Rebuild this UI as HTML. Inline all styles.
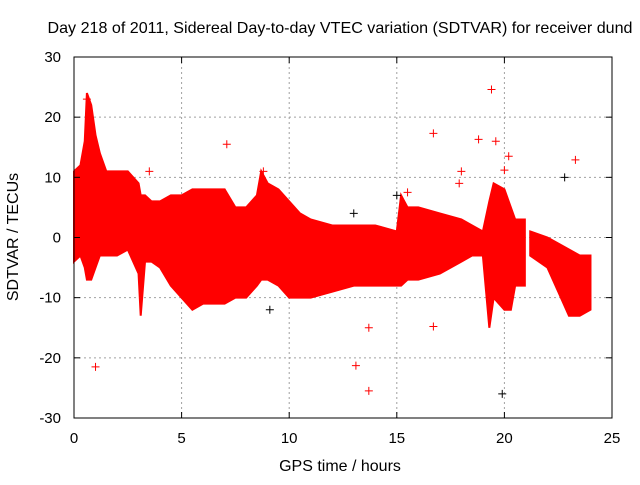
<!DOCTYPE html>
<html><head><meta charset="utf-8"><style>
body{margin:0;background:#fff}
svg text{font-family:"Liberation Sans",sans-serif;font-size:15px;fill:#000}
svg text.big{font-size:16px}
</style></head><body>
<svg width="640" height="480" xmlns="http://www.w3.org/2000/svg">
<rect width="640" height="480" fill="#fff"/>
<g id="grid"></g>
<g id="series"></g>
<g id="axes"></g>
<text class="big" x="340" y="33" text-anchor="middle" textLength="585" lengthAdjust="spacingAndGlyphs">Day 218 of 2011, Sidereal Day-to-day VTEC variation (SDTVAR) for receiver dund</text>
<text class="big" x="340" y="471" text-anchor="middle">GPS time / hours</text>
<text class="big" x="18" y="237" text-anchor="middle" transform="rotate(-90 18 237)">SDTVAR / TECUs</text>
</svg>
<script>
const times=[0,0.3,0.5,0.6,0.8,1.0,1.2,1.5,2.0,2.5,3.0,3.1,3.3,3.6,4.0,4.5,5.0,5.5,6.0,7.0,7.5,8.0,8.5,8.7,9.0,9.5,10.0,10.5,11.0,12,13,14,15,15.2,15.5,16,17,18,18.5,19,19.3,19.5,20,20.3,20.5,20.95,21.2,22,22.5,23,23.5,24];
const upper=[11,12,16,24,22,17,14,11,11,11,9,7,7,6,6,7,7,8,8,8,5,5,7,11,9,8,6,4,3,2,2,2,1,7,5,5,4,3,2,1,6,9,8,5,3,3,1,0,-1,-2,-3,-3];
const lower=[-4,-3,-5,-7,-7,-5,-3,-3,-3,-2,-6,-13,-4,-4,-5,-8,-10,-12,-11,-11,-10,-10,-8,-7,-7,-8,-10,-10,-10,-9,-8,-8,-8,-8,-7,-7,-6,-4,-3,-3,-15,-10,-12,-12,-8,-8,-3,-5,-9,-13,-13,-12];
const outT=[1.0,7.1,13.1,13.7,13.7,16.7,16.7,15.5,18.8,19.4,19.6,20.2,20.0,23.3,17.9,18.0,3.5,8.8,0.6];
const outV=[-21.5,15.5,-21.3,-25.5,-15,17.3,-14.8,7.5,16.3,24.6,16,13.5,11.2,12.9,9,11,11,11,23];
const blackT=[22.8,19.9,15.0,13.0,9.1];
const blackV=[10,-26,7,4,-12];
const xTicks=[0,5,10,15,20,25];
const yTicks=[-30,-20,-10,0,10,20,30];
const X0=74,X1=612,Y0=418,Y1=57;
const sx=t=>X0+(t-0)/(25-0)*(X1-X0);
const sy=v=>Y0-(v+30)/60*(Y0-Y1);
const NS="http://www.w3.org/2000/svg";
function mk(tag,attrs,parent){const e=document.createElementNS(NS,tag);for(const k in attrs)e.setAttribute(k,attrs[k]);parent.appendChild(e);return e;}
const grid=document.getElementById('grid'),axes=document.getElementById('axes'),ser=document.getElementById('series');
xTicks.forEach(t=>{
 if(t>0&&t<25){const l=mk('line',{x1:sx(t),x2:sx(t),y1:Y1,y2:Y0,stroke:'#a0a0a0','stroke-dasharray':'2,3'},grid);
 
 }
 mk('line',{x1:sx(t),x2:sx(t),y1:Y0,y2:Y0-6,stroke:'#000'},axes);
 mk('line',{x1:sx(t),x2:sx(t),y1:Y1,y2:Y1+6,stroke:'#000'},axes);
 const tx=mk('text',{x:sx(t),y:Y0+25,'text-anchor':'middle'},axes);tx.textContent=t;
 
 
});
yTicks.forEach(v=>{
 if(v>-30&&v<30){const l=mk('line',{x1:X0,x2:X1,y1:sy(v),y2:sy(v),stroke:'#a0a0a0','stroke-dasharray':'2,3'},grid);
 
 }
 mk('line',{x1:X0,x2:X0+6,y1:sy(v),y2:sy(v),stroke:'#000'},axes);
 mk('line',{x1:X1,x2:X1-6,y1:sy(v),y2:sy(v),stroke:'#000'},axes);
 const tx=mk('text',{x:X0-13,y:sy(v)+5,'text-anchor':'end'},axes);tx.textContent=v;
 
 
});
const fr=mk('rect',{x:X0,y:Y1,width:X1-X0,height:Y0-Y1,fill:'none',stroke:'#000'},axes);


let seg=[[0,45],[46,times.length-1]];
seg.forEach(([a,b])=>{
 let pts=[];for(let i=a;i<=b;i++)pts.push(sx(times[i])+','+sy(upper[i]));
 for(let i=b;i>=a;i--)pts.push(sx(times[i])+','+sy(lower[i]));
 const p=mk('polygon',{points:pts.join(' '),fill:'#ff0000',stroke:'#ff0000','stroke-width':2},ser);
 
 
});
function cross(t,v,c,name){const g=mk('path',{d:`M${sx(t)-4},${sy(v)}h8M${sx(t)},${sy(v)-4}v8`,stroke:c,'stroke-width':1},ser);
 
 }
outT.forEach((t,i)=>cross(t,outV[i],'#ff0000','outlier-point'));
blackT.forEach((t,i)=>cross(t,blackV[i],'#000','reference-point'));
</script>
</body></html>
